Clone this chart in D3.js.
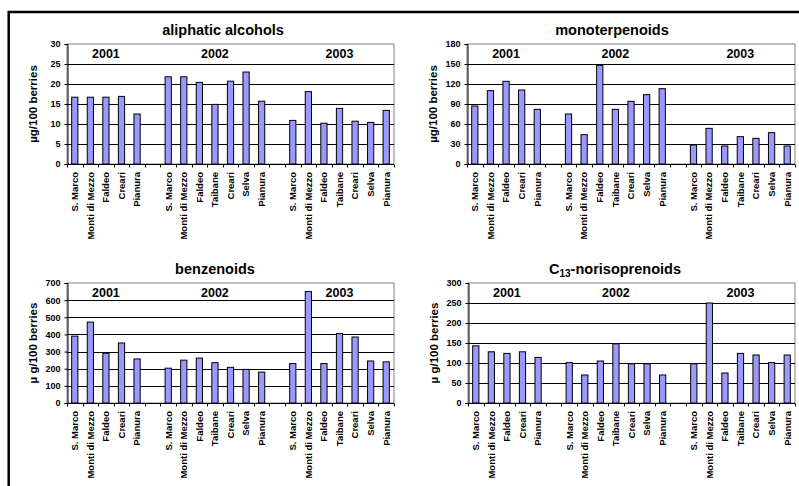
<!DOCTYPE html>
<html>
<head>
<meta charset="utf-8">
<script src="https://cdn.jsdelivr.net/npm/d3@7"></script>
<style>
  html, body { margin: 0; padding: 0; background: #fff; }
  svg { display: block; }
  text { font-family: Arial, "Liberation Sans", sans-serif; font-weight: bold; fill: #000; }
</style>
</head>
<body>
<svg id="chart" width="799" height="486"></svg>
<script>
// Vineyard sites sampled in each vintage
const years = ["2001", "2002", "2003"];
const sites2001 = ["S. Marco", "Monti di Mezzo", "Faldeo", "Creari", "Pianura"];
const sites2002 = ["S. Marco", "Monti di Mezzo", "Faldeo", "Taibane", "Creari", "Selva", "Pianura"];
const sites2003 = ["S. Marco", "Monti di Mezzo", "Faldeo", "Taibane", "Creari", "Selva", "Pianura"];

// µg/100 berries, in site order: 2001 (5), 2002 (7), 2003 (7)
const aliphaticAlcohols = [16.7, 16.7, 16.7, 16.9, 12.5,
                           21.8, 21.8, 20.4, 14.9, 20.7, 23.0, 15.7,
                           10.9, 18.1, 10.2, 13.9, 10.7, 10.4, 13.4];
const monoterpenoids    = [87, 110, 124, 111, 82,
                           75, 44, 148, 82, 94, 104, 113,
                           28.5, 53.5, 27, 41, 38.5, 47, 27];
const benzenoids        = [390, 472, 290, 350, 257,
                           203, 250, 262, 235, 208, 196, 180,
                           230, 650, 230, 405, 385, 245, 240];
const norisoprenoids    = [143, 128, 124, 128, 114,
                           101, 70, 105, 148, 98, 98, 70,
                           98, 250, 75, 124, 120, 101, 120];

// y-axis ranges and tick steps per panel
const yMax  = [30, 180, 700, 300];
const yStep = [5, 30, 100, 50];

const svg = d3.select("#chart");

// outer frame of the figure
svg.append("rect")
  .attr("x", 8.7).attr("y", 12).attr("width", 820).attr("height", 500)
  .attr("fill", "none").attr("stroke", "#000").attr("stroke-width", 2.5);

// slot sequence: groups separated by one empty slot
const groups = [sites2001, sites2002, sites2003];
const slots = [];
const items = [];
groups.forEach((g, gi) => {
  if (gi > 0) slots.push("gap" + gi);
  g.forEach(s => { const k = years[gi] + "|" + s; slots.push(k); items.push({key: k, site: s, year: years[gi]}); });
});

const panels = [
  {title: "aliphatic alcohols", values: aliphaticAlcohols, yLabel: "\u00b5g/100 berries",
   left: 67, right: 394, top: 44, bottom: 164, titleX: 223},
  {title: "monoterpenoids", values: monoterpenoids, yLabel: "\u00b5g/100 berries",
   left: 467, right: 795, top: 44, bottom: 164, titleX: 612},
  {title: "benzenoids", values: benzenoids, yLabel: "\u00b5 g/100 berries",
   left: 67, right: 394, top: 283, bottom: 403, titleX: 215},
  {title: "C13", values: norisoprenoids, yLabel: "\u00b5 g/100 berries",
   left: 468, right: 795, top: 283, bottom: 403, titleX: 615}
];

panels.forEach((p, pi) => {
  const g = svg.append("g");
  const x = d3.scaleBand().domain(slots).range([p.left, p.right]).paddingInner(0).paddingOuter(0);
  const y = d3.scaleLinear().domain([0, yMax[pi]]).range([p.bottom, p.top]);
  const ticks = d3.range(0, yMax[pi] + 1e-9, yStep[pi]);
  const bw = x.bandwidth();

  // plot area
  g.append("rect")
    .attr("x", p.left).attr("y", p.top)
    .attr("width", p.right - p.left).attr("height", p.bottom - p.top)
    .attr("fill", "#fff").attr("stroke", "#808080").attr("stroke-width", 1);

  // horizontal gridlines
  g.selectAll("line.grid").data(ticks.filter(t => t > 0 && t < yMax[pi])).join("line")
    .attr("class", "grid")
    .attr("x1", p.left).attr("x2", p.right)
    .attr("y1", d => Math.round(y(d)) + 0.5).attr("y2", d => Math.round(y(d)) + 0.5)
    .attr("stroke", "#000").attr("stroke-width", 1);

  // vintage labels
  groups.forEach((grp, gi) => {
    const first = x(years[gi] + "|" + grp[0]);
    const last = x(years[gi] + "|" + grp[grp.length - 1]) + bw;
    g.append("text")
      .attr("x", (first + last) / 2).attr("y", p.top + 14)
      .attr("text-anchor", "middle").attr("font-size", 12.5)
      .text(years[gi]);
  });

  // bars
  g.selectAll("rect.bar").data(items).join("rect")
    .attr("class", "bar")
    .attr("x", d => x(d.key) + bw * 0.3)
    .attr("width", bw * 0.4)
    .attr("y", (d, i) => y(p.values[i]))
    .attr("height", (d, i) => p.bottom - y(p.values[i]))
    .attr("fill", "#9999ff").attr("stroke", "#000").attr("stroke-width", 1);

  // y axis
  const yAxis = d3.axisLeft(y).tickValues(ticks).tickSize(3).tickPadding(4).tickFormat(d3.format("d"));
  const ya = g.append("g").attr("transform", `translate(${p.left + 0.5},0)`).call(yAxis);
  ya.select(".domain").attr("stroke", "#000");
  ya.selectAll("line").attr("stroke", "#000");
  ya.selectAll("text").attr("font-size", 9).attr("font-family", "Arial, 'Liberation Sans', sans-serif").attr("font-weight", "bold");

  // x axis line with ticks at slot boundaries
  const yb = Math.round(p.bottom) + 0.5;
  g.append("line").attr("x1", p.left).attr("x2", p.right).attr("y1", yb).attr("y2", yb)
    .attr("stroke", "#000");
  const bounds = slots.map(s => x(s)).concat([p.right]);
  g.selectAll("line.xt").data(bounds).join("line")
    .attr("class", "xt")
    .attr("x1", d => Math.round(d) + 0.5).attr("x2", d => Math.round(d) + 0.5)
    .attr("y1", yb).attr("y2", yb + 3)
    .attr("stroke", "#000");

  // site labels, vertical
  g.selectAll("text.site").data(items).join("text")
    .attr("class", "site")
    .attr("transform", d => `translate(${x(d.key) + bw / 2},${p.bottom + 8}) rotate(-90)`)
    .attr("dy", "0.35em")
    .attr("text-anchor", "end")
    .attr("font-size", 9.5)
    .text(d => d.site);

  // y axis title
  g.append("text")
    .attr("transform", `translate(${p.left - 34},${(p.top + p.bottom) / 2}) rotate(-90)`)
    .attr("dy", "0.35em")
    .attr("text-anchor", "middle")
    .attr("font-size", 11.5)
    .text(p.yLabel);

  // panel title
  const t = g.append("text")
    .attr("x", p.titleX).attr("y", p.top - 9)
    .attr("text-anchor", "middle").attr("font-size", 14.5);
  if (p.title === "C13") {
    t.append("tspan").text("C");
    t.append("tspan").attr("font-size", 10).attr("dy", 3).text("13");
    t.append("tspan").attr("dy", -3).text("-norisoprenoids");
  } else {
    t.text(p.title);
  }
});
</script>
</body>
</html>
